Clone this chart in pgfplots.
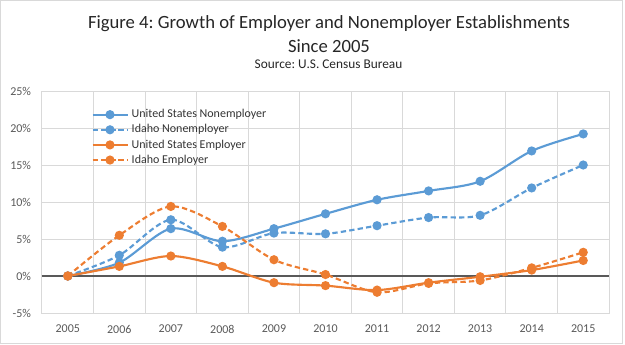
\documentclass[border=0pt]{standalone}
\usepackage{fontspec}
\setmainfont{Carlito}
\usepackage{pgfplots}
\pgfplotsset{compat=1.18}
\definecolor{cblue}{HTML}{5B9BD5}
\definecolor{corange}{HTML}{ED7D31}
\definecolor{cgrid}{HTML}{D9D9D9}
\definecolor{ctext}{HTML}{595959}
\definecolor{caxis}{HTML}{595959}
\frenchspacing
\begin{document}
\begin{tikzpicture}[x=1pt,y=1pt]
\path[use as bounding box] (-31.5,-23.25) rectangle (437.25,234.75);
\draw[cgrid, line width=0.75pt] (-30.9,-22.6) rectangle (435.4,234.1);
\node[anchor=base, inner sep=0pt, font=\fontsize{14}{16}\selectfont, text=black!85] at (215.25,213.75) {Figure 4: Growth of Employer and Nonemployer Establishments};
\node[anchor=base, inner sep=0pt, font=\fontsize{14}{16}\selectfont, text=black!85] at (215.25,195.4) {Since 2005};
\node[anchor=base, inner sep=0pt, font=\fontsize{10}{12}\selectfont, text=black!85] at (214.9,183.75) {Source: U.S. Census Bureau};
\begin{axis}[
  at={(0,0)}, anchor=south west, scale only axis,
  width=425.25pt, height=166.5pt,
  xmin=-0.5, xmax=10.5, ymin=-5, ymax=25,
  xtick={0,...,10},
  xticklabels={2005,2006,2007,2008,2009,2010,2011,2012,2013,2014,2015},
  minor xtick={-0.5,0.5,...,10.5},
  ytick={-5,0,5,10,15,20,25},
  yticklabels={-5\%,0\%,5\%,10\%,15\%,20\%,25\%},
  xminorgrids, ymajorgrids, xmajorgrids=false,
  grid style={cgrid, line width=0.75pt},
  minor grid style={cgrid, line width=0.75pt},
  axis line style={cgrid, line width=0.75pt},
  major tick length=0pt, minor tick length=0pt,
  tick label style={font=\fontsize{9}{11}\selectfont, text=ctext},
  xticklabel style={yshift=-5.5pt},
  yticklabel style={xshift=-4.7pt},
  legend style={at={(0.087,0.93)}, anchor=north west, draw=none, fill=none,
    font=\fontsize{9}{11}\selectfont, text=black!80, inner sep=0pt,
    row sep=-0.4pt, nodes={inner xsep=2.5pt}},
  legend cell align=left,
  legend image code/.code={\draw[mark repeat=2,mark phase=2,#1] plot coordinates {(0pt,0pt) (13pt,0pt) (26pt,0pt)};},
  every axis plot/.append style={line width=1.6pt, mark=*, mark size=2.6pt, smooth},
]
\addplot[caxis, line width=1.1pt, mark=none, sharp plot, forget plot] coordinates {(-0.5,0) (10.5,0)};
\addplot[cblue, mark options={solid}] coordinates {(0,0) (1,1.8) (2,6.4) (3,4.7) (4,6.4) (5,8.4) (6,10.3) (7,11.5) (8,12.8) (9,16.9) (10,19.2)};
\addlegendentry{United States Nonemployer}
\addplot[cblue, dash pattern=on 4pt off 2.4pt, mark options={solid}] coordinates {(0,0) (1,2.8) (2,7.6) (3,3.9) (4,5.8) (5,5.7) (6,6.8) (7,7.9) (8,8.2) (9,11.9) (10,15.0)};
\addlegendentry{Idaho Nonemployer}
\addplot[corange, mark options={solid}] coordinates {(0,0) (1,1.3) (2,2.7) (3,1.3) (4,-0.9) (5,-1.3) (6,-1.9) (7,-0.9) (8,-0.1) (9,0.8) (10,2.1)};
\addlegendentry{United States Employer}
\addplot[corange, dash pattern=on 4pt off 2.4pt, mark options={solid}] coordinates {(0,0) (1,5.5) (2,9.4) (3,6.7) (4,2.2) (5,0.2) (6,-2.2) (7,-1.0) (8,-0.6) (9,1.1) (10,3.2)};
\addlegendentry{Idaho Employer}
\end{axis}
\end{tikzpicture}
\end{document}
